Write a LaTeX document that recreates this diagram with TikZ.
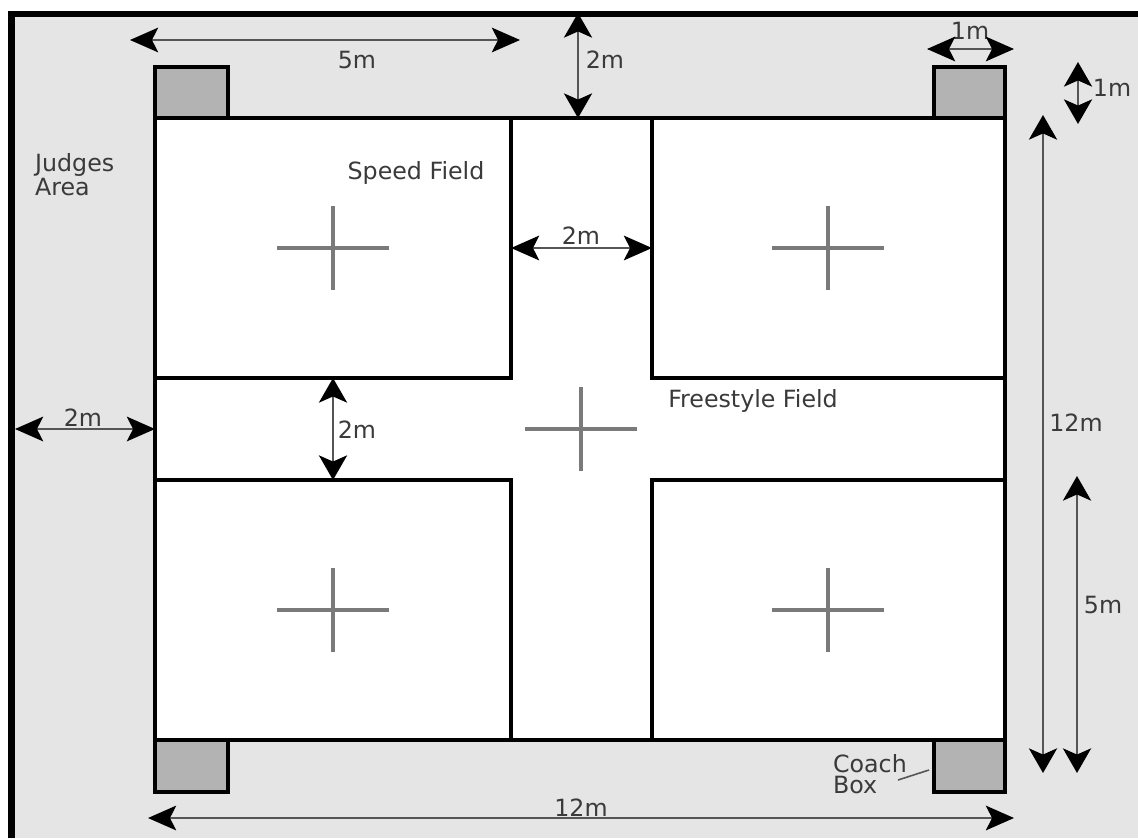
\documentclass[tikz,border=0pt]{standalone}
\usepackage{fontspec}
\setmainfont{DejaVu Sans}
\usetikzlibrary{arrows.meta}
\definecolor{areagrey}{HTML}{E5E5E5}
\definecolor{boxgrey}{HTML}{B3B3B3}
\definecolor{crossgrey}{HTML}{7A7A7A}
\definecolor{dimgrey}{HTML}{555555}
\definecolor{textgrey}{HTML}{3A3A3A}

\tikzset{
        hdim/.style={draw=dimgrey, line width=1.4pt,
                {Stealth[length=16pt, width=14pt, inset=3.5pt, black]}-{Stealth[length=16pt, width=14pt, inset=3.5pt, black]}},
        vdim/.style={draw=dimgrey, line width=1.4pt,
                {Stealth[length=14pt, width=16pt, inset=3.5pt, black]}-{Stealth[length=14pt, width=16pt, inset=3.5pt, black]}},
}

\begin{document}
\begin{tikzpicture}[x=0.02cm, y=-0.02cm]
                \useasboundingbox (0,0) rectangle (1138,838);
                \fill[white] (0,0) rectangle (1138,838);
                \fill[areagrey] (12,14) rectangle (1138,838);
                \draw[black, line width=3.6pt] (11.5,838) -- (11.5,14) -- (1138,14);

                % coach boxes
                \begin{scope}[every path/.style={draw=black, line width=2.6pt, fill=boxgrey}]
                        \path (155,67) rectangle (228,118);
                        \path (934,67) rectangle (1005,118);
                        \path (155,740) rectangle (228,792);
                        \path (934,740) rectangle (1005,792);
                \end{scope}

                % fields
                \begin{scope}[every path/.style={draw=black, line width=2.6pt}]
                        \path[fill=white] (155,118) rectangle (1005,740);
                        \path (155,118) rectangle (511,378);
                        \path (652,118) rectangle (1005,378);
                        \path (155,480) rectangle (511,740);
                        \path (652,480) rectangle (1005,740);
                \end{scope}

                % centre marks
                \foreach \cx/\cy in {333/248, 828/248, 581/429, 333/610, 828/610}
                        \draw[crossgrey, line width=1.8pt] (\cx-56,\cy) -- (\cx+56,\cy) (\cx,\cy-42) -- (\cx,\cy+42);

                \begin{scope}[every node/.style={text=textgrey, font=\fontsize{13.5}{12}\selectfont, inner sep=1}]
                        \node (JA) [anchor=north west, align=left] at (33,151) {Judges\\Area};
                        \node (SF) at (416,173) {Speed Field};
                        \node (FF) at (753,401) {Freestyle Field};
                        \node (CB) [anchor=north west, align=left] at (831,752) {Coach\\Box};
                        \node (L5t) at (357,60) {5m};
                        \node (L2t) at (605,60) {2m};
                        \node (L1h) at (970,31) {1m};
                        \node (L1v) at (1112,88) {1m};
                        \node (L12v) at (1076,423) {12m};
                        \node (L5v) at (1103,605) {5m};
                        \node (L2m) at (581,236) {2m};
                        \node (L2l) at (83,418) {2m};
                        \node (L2c) at (357,430) {2m};
                        \node (L12b) at (581,808) {12m};
                \end{scope}

                % dimension ends
                \coordinate (t5a) at (130,40);   \coordinate (t5b) at (520,40);
                \coordinate (t2a) at (578,13);   \coordinate (t2b) at (578,118);
                \coordinate (h1a) at (927,49);   \coordinate (h1b) at (1014,49);
                \coordinate (v1a) at (1078,62);  \coordinate (v1b) at (1078,124);
                \coordinate (v12a) at (1043,115); \coordinate (v12b) at (1043,773);
                \coordinate (v5a) at (1077,476); \coordinate (v5b) at (1077,773);
                \coordinate (m2a) at (511,248);  \coordinate (m2b) at (652,248);
                \coordinate (l2a) at (15,429);   \coordinate (l2b) at (155,429);
                \coordinate (c2a) at (333,378);  \coordinate (c2b) at (333,480);
                \coordinate (b12a) at (148,818); \coordinate (b12b) at (1014,818);
                \coordinate (cbl) at (929,770);

                \draw[hdim] (t5a) -- (t5b);
                \draw[hdim] (h1a) -- (h1b);
                \draw[hdim] (m2a) -- (m2b);
                \draw[hdim] (l2a) -- (l2b);
                \draw[hdim] (b12a) -- (b12b);
                \draw[vdim] (t2a) -- (t2b);
                \draw[vdim] (v1a) -- (v1b);
                \draw[vdim] (v12a) -- (v12b);
                \draw[vdim] (v5a) -- (v5b);
                \draw[vdim] (c2a) -- (c2b);
                \draw[dimgrey, line width=0.9pt] (898,780) -- (cbl);
\end{tikzpicture}
\end{document}
